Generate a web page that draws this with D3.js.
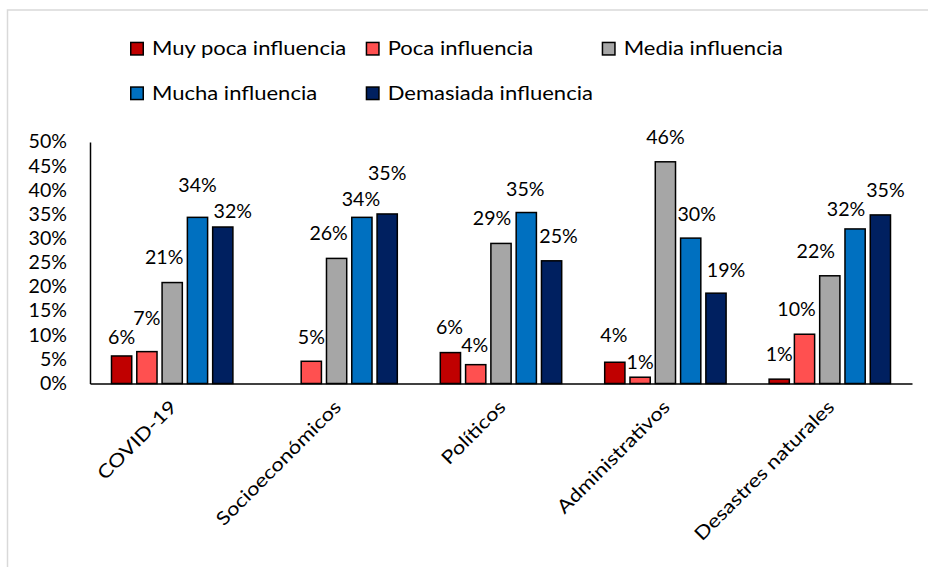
<!DOCTYPE html>
<html><head><meta charset="utf-8">
<script src="https://cdn.jsdelivr.net/npm/d3@7"></script>
<style>
html,body{margin:0;padding:0;background:#fff;}
svg{display:block;font-family:Lato,"Open Sans",sans-serif;}
</style></head>
<body><svg id="chart" width="928" height="567"></svg>
<script>
const categories = ["COVID-19","Socioeconómicos","Políticos","Administrativos","Desastres naturales"];
const seriesNames = ["Muy poca influencia","Poca influencia","Media influencia","Mucha influencia","Demasiada influencia"];
const muyPoca   = [0.057, null, 0.064, 0.044, 0.009];
const poca      = [0.066, 0.046, 0.039, 0.013, 0.102];
const media     = [0.209, 0.259, 0.290, 0.459, 0.223];
const mucha     = [0.344, 0.344, 0.354, 0.301, 0.320];
const demasiada = [0.324, 0.351, 0.254, 0.187, 0.349];
const yTicks = [0,0.05,0.10,0.15,0.20,0.25,0.30,0.35,0.40,0.45,0.50];
// manual nudges of data labels (px) relative to default placement
const nudgeMuyPoca   = [[0,5],null,[-1,-1],[-1,-3],[0,-1]];
const nudgePoca      = [[0,-9],[0,0],[-1,5],[0,9],[-8,-1]];
const nudgeMedia     = [[-8,-1],[-8,-1],[-9,-1],[0,0],[-14,0]];
const nudgeMucha     = [[0,-8],[-1,6],[-1,1],[6,0],[-9,4]];
const nudgeDemasiada = [[10,8],[0,-17],[7,0],[10,1],[5,-1]];

const colors = ["#C00000","#FF5050","#A6A6A6","#0070C0","#002060"];
const seriesValues = [muyPoca, poca, media, mucha, demasiada];
const nudges = [nudgeMuyPoca, nudgePoca, nudgeMedia, nudgeMucha, nudgeDemasiada];

const svg = d3.select("#chart");
const FS = 18.5;
const SX_NUM = 1.06, SX_TXT = 1.19;

// outer frame
svg.append("rect").attr("x",7.5).attr("y",10).attr("width",1000).attr("height",1000)
  .attr("fill","none").attr("stroke","#d9d9d9").attr("stroke-width",1.5);

const mLeft = 90, mRight = 912, mTop = 142, mBottom = 383.5;
const x0 = d3.scaleBand().domain(categories).range([mLeft,mRight]).paddingInner(0).paddingOuter(0);
const x1 = d3.scaleBand().domain(seriesNames).range([0,x0.bandwidth()]).paddingInner(0.2).paddingOuter(0.85);
const y = d3.scaleLinear().domain([0,0.5]).range([mBottom,mTop]);

// bars
const data = [];
seriesNames.forEach((s,si)=>{
  categories.forEach((c,ci)=>{
    const v = seriesValues[si][ci];
    if(v!=null) data.push({s,si,c,ci,v,n:nudges[si][ci]});
  });
});
svg.append("g").selectAll("rect").data(data).join("rect")
  .attr("x",d=>x0(d.c)+x1(d.s))
  .attr("y",d=>y(d.v))
  .attr("width",x1.bandwidth())
  .attr("height",d=>y(0)-y(d.v))
  .attr("fill",d=>colors[d.si])
  .attr("stroke","#000").attr("stroke-width",1.5);

// data labels
const fmt = d3.format(".0%");
svg.append("g").selectAll("text").data(data).join("text")
  .attr("transform",d=>{
    const lx = x0(d.c)+x1(d.s)+x1.bandwidth()/2+(d.n?d.n[0]:0);
    const ly = y(d.v)-24+(d.n?d.n[1]:0);
    return `translate(${lx},${ly}) scale(${SX_NUM},1)`;
  })
  .attr("dy","0.36em")
  .attr("text-anchor","middle")
  .attr("font-size",FS).attr("fill","#000")
  .text(d=>fmt(d.v));

// y axis
const yAxis = d3.axisLeft(y).tickValues(yTicks).tickFormat(fmt).tickSize(0).tickPadding(23);
const gy = svg.append("g").attr("transform",`translate(${mLeft},0)`).call(yAxis);
gy.select(".domain").attr("stroke","#000").attr("stroke-width",1.5);
gy.selectAll(".tick text").attr("font-size",FS).attr("font-family","Lato").attr("fill","#000")
  .attr("x",0).attr("transform",`translate(-23,0) scale(${SX_NUM},1)`);

// x axis
const xAxis = d3.axisBottom(x0).tickSize(0).tickFormat(d=>d);
const gx = svg.append("g").attr("transform",`translate(0,${mBottom})`).call(xAxis);
gx.select(".domain").attr("stroke","#000").attr("stroke-width",1.5);
gx.selectAll(".tick text")
  .attr("font-size",FS).attr("font-family","Lato").attr("fill","#000")
  .attr("text-anchor","end")
  .attr("transform",`translate(1,20) rotate(-45) scale(${SX_TXT},1)`)
  .attr("x",0).attr("y",0).attr("dy","0.36em");

// legend
const legendPos = [[130,48.7],[365.7,48.7],[601.7,48.7],[130,93.3],[365.7,93.3]];
const lg = svg.append("g").selectAll("g").data(seriesNames).join("g")
  .attr("transform",(d,i)=>`translate(${legendPos[i][0]},${legendPos[i][1]})`);
lg.append("rect").attr("x",0.75).attr("y",-6.25).attr("width",12.5).attr("height",12.5)
  .attr("fill",(d,i)=>colors[i]).attr("stroke","#000").attr("stroke-width",1.5);
lg.append("text").attr("transform",`translate(22,0) scale(${SX_TXT},1)`).attr("dy","0.36em")
  .attr("font-size",FS).attr("fill","#000").text(d=>d);
</script>
</body></html>
